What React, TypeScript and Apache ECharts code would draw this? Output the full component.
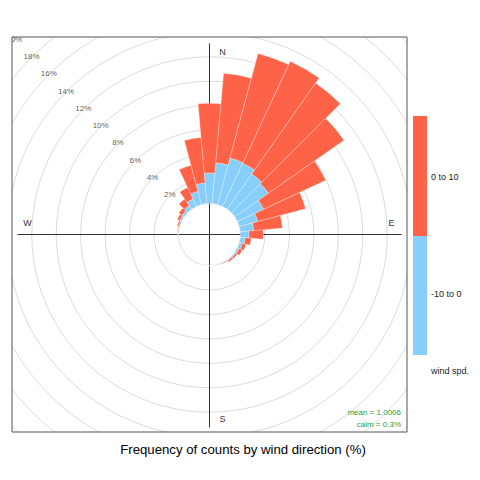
import React, { useEffect, useRef } from "react";
import * as echarts from "echarts";

// wind direction bins (degrees, clockwise from north)
const directions: string[] = [
  "0", "10", "20", "30", "40", "50", "60", "70", "80", "90", "100", "110",
  "120", "130", "140", "150", "160", "170", "180", "190", "200", "210", "220", "230",
  "240", "250", "260", "270", "280", "290", "300", "310", "320", "330", "340", "350",
];

// frequency (%) of "-10 to 0" speeds per direction
const lowSpeed: number[] = [
  2.5, 3.35, 3.95, 3.9, 3.5, 3.35, 2.35, 1.55, 1.1, 0.7, 0.4, 0.25,
  0.15, 0.1, 0.08, 0.05, 0.03, 0.02, 0.02, 0.02, 0.02, 0.02, 0.02, 0.02,
  0.02, 0.02, 0.02, 0.03, 0.05, 0.08, 0.15, 0.2, 0.36, 0.66, 1.13, 1.7,
];

// frequency (%) of "0 to 10" speeds per direction
const highSpeed: number[] = [
  5.7, 7.35, 8.85, 9.2, 9.1, 7.55, 5.6, 4.05, 2.35, 1.16, 0.48, 0.3,
  0.28, 0.15, 0.14, 0.05, 0.02, 0.01, 0.01, 0.01, 0.01, 0.01, 0.01, 0.01,
  0.01, 0.01, 0.01, 0.02, 0.05, 0.12, 0.23, 0.33, 0.64, 1.04, 2.2, 3.72,
];

const pctTicks: number[] = [2, 4, 6, 8, 10, 12, 14, 16, 18, 20];
const legendLabels: string[] = ["0 to 10", "-10 to 0"];
const titleText = "Frequency of counts by wind direction (%)";
const meanText = "mean = 1.0006";
const calmText = "calm = 0.3%";

export default function App() {
  const ref = useRef<HTMLDivElement>(null);

  useEffect(() => {
    if (!ref.current) return;
    const chart = echarts.init(ref.current, undefined, { renderer: "svg" });

    const cx = 209.5;
    const cy = 234.5;
    const r0 = 31;
    const r1 = 275.5;
    const box = { x: 12, y: 37, w: 395, h: 395 };
    const red = "#FF6347";
    const blue = "#87CEFA";
    const font = "Liberation Sans, Arial, sans-serif";
    const crossHalf = 192;

    chart.setOption({
      animation: false,
      backgroundColor: "#fff",
      polar: [
        { center: [cx, cy], radius: [r0, r1] },
        { center: [cx, cy], radius: [r0, r1] },
      ],
      angleAxis: [
        {
          polarIndex: 0,
          type: "category",
          data: directions,
          startAngle: 95,
          clockwise: true,
          boundaryGap: true,
          axisLine: { show: false },
          axisTick: { show: false },
          axisLabel: { show: false },
          splitLine: { show: false },
        },
        {
          polarIndex: 1,
          type: "value",
          min: 0,
          max: 360,
          startAngle: 90,
          clockwise: true,
          show: false,
        },
      ],
      radiusAxis: [
        {
          polarIndex: 0,
          type: "value",
          min: 0,
          max: 20,
          interval: 2,
          axisLine: { show: false },
          axisTick: { show: false },
          axisLabel: { show: false },
          splitLine: { show: true, lineStyle: { color: "#dcdcdc", width: 1 } },
        },
        {
          polarIndex: 1,
          type: "value",
          min: 0,
          max: 20,
          show: false,
        },
      ],
      series: [
        {
          type: "bar",
          coordinateSystem: "polar",
          polarIndex: 0,
          stack: "ws",
          data: lowSpeed,
          barCategoryGap: "0%",
          itemStyle: { color: blue, borderColor: "rgba(255,255,255,0.55)", borderWidth: 0.5 },
          z: 2,
        },
        {
          type: "bar",
          coordinateSystem: "polar",
          polarIndex: 0,
          stack: "ws",
          data: highSpeed,
          barCategoryGap: "0%",
          itemStyle: { color: red, borderColor: "rgba(255,255,255,0.55)", borderWidth: 0.5 },
          z: 2,
        },
        {
          type: "scatter",
          coordinateSystem: "polar",
          polarIndex: 1,
          symbolSize: 1,
          silent: true,
          itemStyle: { color: "rgba(0,0,0,0)" },
          data: pctTicks.map((p) => [p, 315]),
          label: {
            show: true,
            position: [0, 0],
            align: "center",
            verticalAlign: "middle",
            formatter: (p: any) => p.value[0] + "%",
            fontSize: 8,
            color: "#333",
            textBorderWidth: 0,
            fontFamily: font,
          },
          z: 3,
        },
      ],
      graphic: [
        // cross lines
        {
          type: "line",
          z: 1,
          shape: { x1: cx - crossHalf, y1: cy, x2: cx + crossHalf, y2: cy },
          style: { stroke: "#333", lineWidth: 1 },
        },
        {
          type: "line",
          z: 1,
          shape: { x1: cx, y1: cy - crossHalf + 1, x2: cx, y2: cy + crossHalf + 1 },
          style: { stroke: "#333", lineWidth: 1 },
        },
        // direction labels
        { type: "text", z: 5, x: cx + 13, y: cy - 183, style: { text: "N", fontSize: 9, fill: "#333", fontFamily: font, textAlign: "center", textVerticalAlign: "middle" } },
        { type: "text", z: 5, x: cx + 13, y: cy + 184, style: { text: "S", fontSize: 9, fill: "#333", fontFamily: font, textAlign: "center", textVerticalAlign: "middle" } },
        { type: "text", z: 5, x: cx + 182, y: cy - 12, style: { text: "E", fontSize: 9, fill: "#333", fontFamily: font, textAlign: "center", textVerticalAlign: "middle" } },
        { type: "text", z: 5, x: cx - 182, y: cy - 12, style: { text: "W", fontSize: 9, fill: "#333", fontFamily: font, textAlign: "center", textVerticalAlign: "middle" } },
        // mean / calm
        { type: "text", z: 5, x: 401, y: 412.7, style: { text: meanText, fontSize: 8, fill: "#2f9a2f", fontFamily: font, textAlign: "right", textVerticalAlign: "middle" } },
        { type: "text", z: 5, x: 401, y: 424.3, style: { text: calmText, fontSize: 8, fill: "#2f9a2f", fontFamily: font, textAlign: "right", textVerticalAlign: "middle" } },
        // masks outside the panel
        { type: "rect", z: 10, shape: { x: 0, y: 0, width: box.x, height: 480 }, style: { fill: "#fff" } },
        { type: "rect", z: 10, shape: { x: box.x + box.w, y: 0, width: 480 - box.x - box.w, height: 480 }, style: { fill: "#fff" } },
        { type: "rect", z: 10, shape: { x: 0, y: 0, width: 480, height: box.y }, style: { fill: "#fff" } },
        { type: "rect", z: 10, shape: { x: 0, y: box.y + box.h, width: 480, height: 480 - box.y - box.h }, style: { fill: "#fff" } },
        // panel border
        { type: "rect", z: 20, shape: { x: box.x, y: box.y, width: box.w, height: box.h }, style: { fill: "none", stroke: "#555", lineWidth: 1 } },
        // legend
        { type: "rect", z: 20, shape: { x: 413, y: 116, width: 14, height: 120 }, style: { fill: red } },
        { type: "rect", z: 20, shape: { x: 413, y: 236, width: 14, height: 119 }, style: { fill: blue } },
        { type: "text", z: 20, x: 431, y: 176.7, style: { text: legendLabels[0], fontSize: 9, fill: "#222", fontFamily: font, textVerticalAlign: "middle" } },
        { type: "text", z: 20, x: 431, y: 294.3, style: { text: legendLabels[1], fontSize: 9, fill: "#222", fontFamily: font, textVerticalAlign: "middle" } },
        { type: "text", z: 20, x: 431, y: 370.7, style: { text: "wind spd.", fontSize: 9, fill: "#222", fontFamily: font, textVerticalAlign: "middle" } },
        // title
        { type: "text", z: 20, x: 243, y: 449.5, style: { text: titleText, fontSize: 13.2, fill: "#000", fontFamily: font, textAlign: "center", textVerticalAlign: "middle" } },
      ],
    });

    return () => chart.dispose();
  }, []);

  return (
    <div
      ref={ref}
      style={{ position: "fixed", left: 0, top: 0, width: 480, height: 480 }}
    />
  );
}
